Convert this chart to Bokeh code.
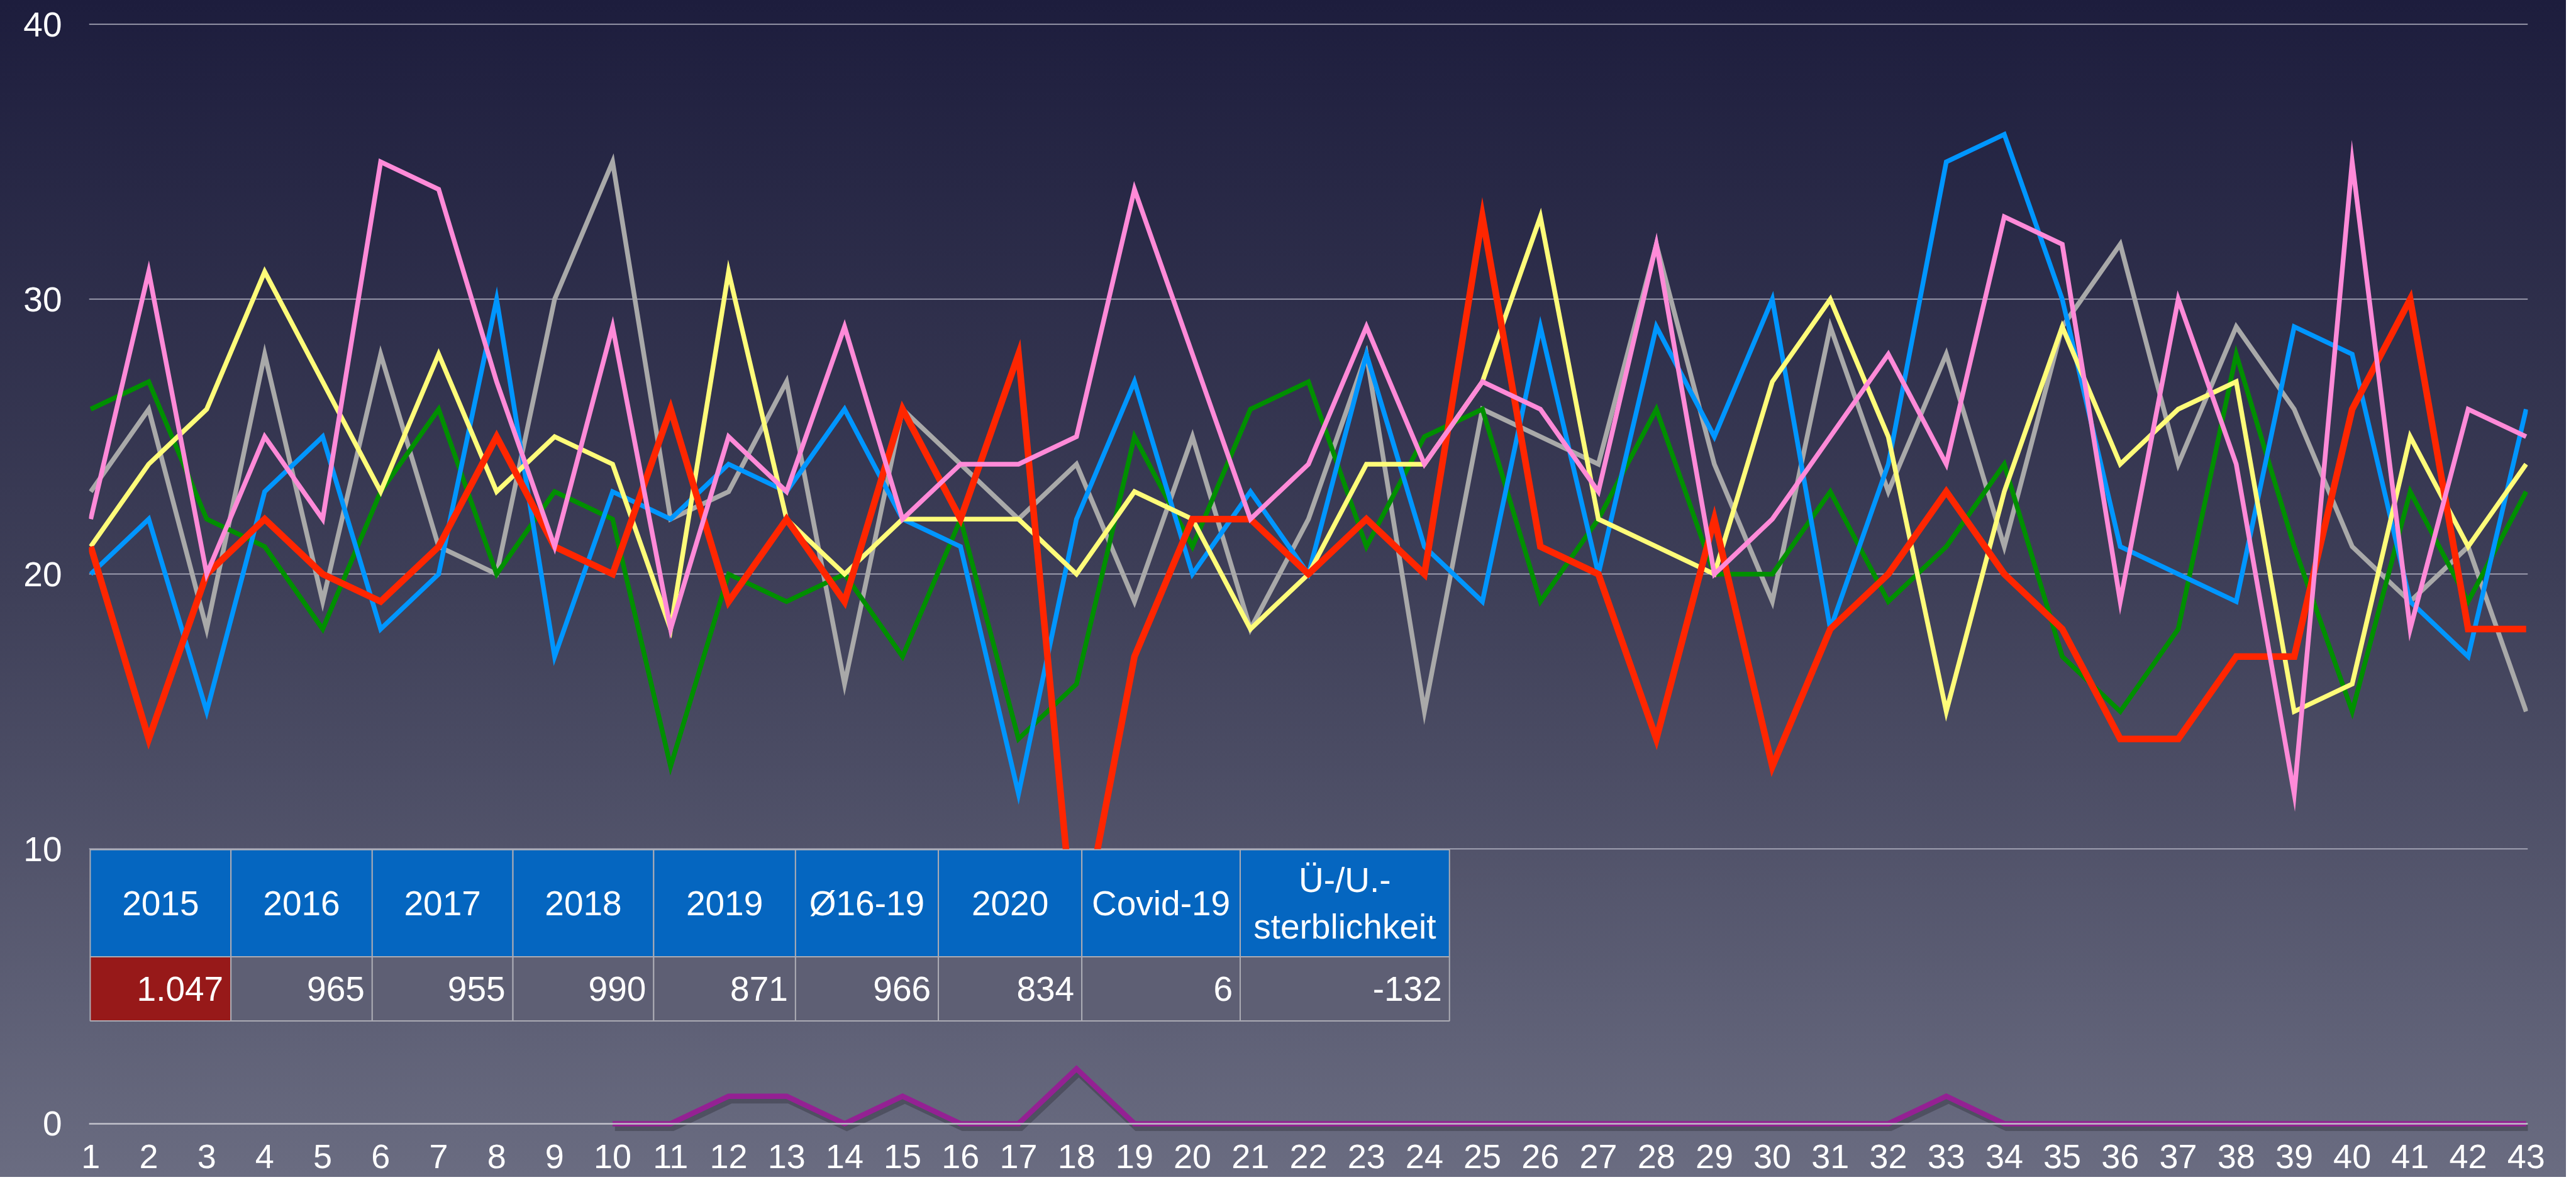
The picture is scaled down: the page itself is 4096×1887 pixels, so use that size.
from bokeh.plotting import figure
from bokeh.models import Range1d, FixedTicker, Span
from bokeh.core.properties import value
from bokeh.embed import file_html
from bokeh.resources import INLINE

# ---------------- data ----------------
weeks = list(range(1, 44))
red_vals = [21, 14, 20, 22, 20, 19, 21, 25, 21, 20, 26, 19, 22, 19, 26, 22, 28, 6, 17, 22, 22,
            20, 22, 20, 33, 21, 20, 14, 22, 13, 18, 20, 23, 20, 18, 14, 14, 17, 17, 26, 30, 18, 18]
green_vals = [26, 27, 22, 21, 18, 23, 26, 20, 23, 22, 13, 20, 19, 20, 17, 22, 14, 16, 25, 21, 26,
              27, 21, 25, 26, 19, 22, 26, 20, 20, 23, 19, 21, 24, 17, 15, 18, 28, 21, 15, 23, 19, 23]
blue_vals = [20, 22, 15, 23, 25, 18, 20, 30, 17, 23, 22, 24, 23, 26, 22, 21, 12, 22, 27, 20, 23,
             20, 28, 21, 19, 29, 20, 29, 25, 30, 18, 24, 35, 36, 30, 21, 20, 19, 29, 28, 19, 17, 26]
gray_vals = [23, 26, 18, 28, 19, 28, 21, 20, 30, 35, 22, 23, 27, 16, 26, 24, 22, 24, 19, 25, 18,
             22, 28, 15, 26, 25, 24, 32, 24, 19, 29, 23, 28, 21, 29, 32, 24, 29, 26, 21, 19, 21, 15]
pink_vals = [22, 31, 20, 25, 22, 35, 34, 27, 21, 29, 18, 25, 23, 29, 22, 24, 24, 25, 34, 28, 22,
             24, 29, 24, 27, 26, 23, 32, 20, 22, 25, 28, 24, 33, 32, 19, 30, 24, 12, 35, 18, 26, 25]
yellow_vals = [21, 24, 26, 31, 27, 23, 28, 23, 25, 24, 18, 31, 22, 20, 22, 22, 22, 20, 23, 22, 18,
               20, 24, 24, 27, 33, 22, 21, 20, 27, 30, 25, 15, 23, 29, 24, 26, 27, 15, 16, 25, 21, 24]
covid_weeks = list(range(10, 44))
covid_vals = [0, 0, 1, 1, 0, 1, 0, 0, 2, 0, 0, 0, 0, 0, 0, 0, 0, 0, 0, 0, 0, 0, 0, 1,
              0, 0, 0, 0, 0, 0, 0, 0, 0, 0]

y_ticks = [0, 10, 20, 30, 40]

table_headers = ["2015", "2016", "2017", "2018", "2019", "Ø16-19", "2020", "Covid-19",
                 "Ü-/U.-\nsterblichkeit"]
table_values = ["1.047", "965", "955", "990", "871", "966", "834", "6", "-132"]

# ---------------- layout / style constants ----------------
col_edges = [0.991, 3.418, 5.854, 8.281, 10.708, 13.154, 15.618, 18.092, 20.823, 24.432]
row_top, row_mid, row_bot = 9.97, 6.076, 3.739
FONT = "Liberation Sans"

p = figure(width=4080, height=1871, output_backend="svg", toolbar_location=None,
           x_range=Range1d(0.97, 43.03), y_range=Range1d(-0.3, 40.1),
           min_border_left=141, min_border_right=61, min_border_top=34, min_border_bottom=72)
p.styles = {"background-image": "linear-gradient(to bottom, #1d1d3d 0%, #3e3f58 50%, #6a6c81 100%)"}
p.background_fill_alpha = 0
p.border_fill_alpha = 0
p.outline_line_color = None

p.xgrid.grid_line_color = None
p.ygrid.ticker = FixedTicker(ticks=y_ticks)
p.ygrid.grid_line_color = "#b9b9c8"
p.ygrid.grid_line_width = 1.5

for ax in (p.xaxis[0], p.yaxis[0]):
    ax.axis_line_color = None
    ax.major_tick_line_color = None
    ax.minor_tick_line_color = None
    ax.major_tick_out = 0
    ax.major_tick_in = 0
    ax.major_label_text_color = "white"
    ax.major_label_text_font = FONT

p.xaxis.ticker = FixedTicker(ticks=weeks)
p.xaxis.major_label_text_font_size = "54px"
p.xaxis.major_label_standoff = 20
p.yaxis.ticker = FixedTicker(ticks=y_ticks)
p.yaxis.major_label_text_font_size = "55px"
p.yaxis.major_label_standoff = 43

p.add_layout(Span(location=0, dimension="width", line_color="#bfbfc8", line_width=2.5))

series = [
    (gray_vals, "#A9A9A9", 7.5),
    (green_vals, "#008F00", 7.5),
    (blue_vals, "#0096FF", 7.5),
    (yellow_vals, "#FFFC79", 7.5),
    (red_vals, "#FF2600", 10.5),
    (pink_vals, "#FF8AD8", 7.5),
]
for vals, col, lw in series:
    p.line(weeks, vals, line_color=col, line_width=lw, line_join="miter")

# covid line with soft shadow
p.line([w + 0.04 for w in covid_weeks], [c - 0.14 for c in covid_vals],
       line_color="black", line_alpha=0.22, line_width=11, line_join="miter")
p.line(covid_weeks, covid_vals, line_color="#942193", line_width=8.5, line_join="miter")

# ---------------- table ----------------
lefts = col_edges[:-1]
rights = col_edges[1:]
n = len(table_headers)
p.quad(left=lefts, right=rights, top=[row_top] * n, bottom=[row_mid] * n,
       fill_color="#0566C0", line_color="#ababb4", line_width=2)
row_fill = ["#971919"] + ["#5e5f74"] * (n - 1)
p.quad(left=lefts, right=rights, top=[row_mid] * n, bottom=[row_bot] * n,
       fill_color=row_fill, line_color="#ababb4", line_width=2)

centers = [(a + b) / 2 for a, b in zip(lefts, rights)]
p.text(x=centers, y=[(row_top + row_mid) / 2] * n, text=table_headers,
       text_font=value(FONT), text_font_size="55px", text_color="white",
       text_align="center", text_baseline="middle", text_line_height=1.2)
p.text(x=rights, y=[(row_mid + row_bot) / 2] * n, text=table_values,
       text_font=value(FONT), text_font_size="55px", text_color="white",
       text_align="right", text_baseline="middle", x_offset=-12)

open("out.html", "w").write(file_html(p, INLINE))
